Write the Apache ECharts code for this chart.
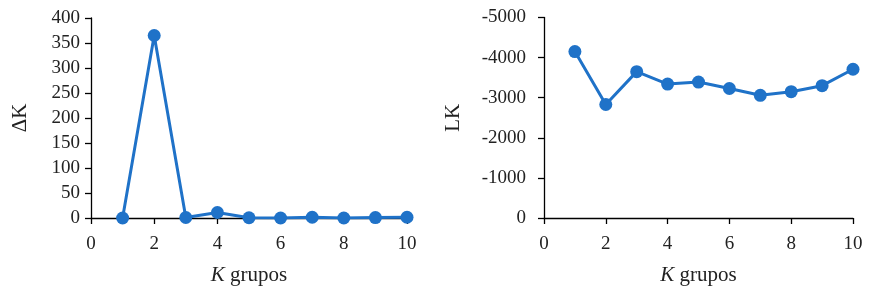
<!DOCTYPE html>
<html><head><meta charset="utf-8">
<script src="https://cdn.jsdelivr.net/npm/echarts@6/dist/echarts.min.js"></script>
<style>html,body{margin:0;padding:0;background:#fff}#c{width:883px;height:291px}</style>
</head><body><div id="c"></div>
<script>
const kValues = [1, 2, 3, 4, 5, 6, 7, 8, 9, 10];
const deltaK = [0, 365, 1, 11, 0.5, 0, 1.5, 0, 0.8, 1.5];
const lnK = [-4150, -2830, -3650, -3340, -3390, -3230, -3060, -3150, -3300, -3710];

const color = '#1f72c8';
const font = 'Liberation Serif';
const axisCommon = {
  axisLine: { show: true, lineStyle: { color: '#000', width: 1.3 } },
  axisTick: { show: true, length: 6, inside: false, lineStyle: { color: '#000', width: 1.3 } },
  splitLine: { show: false },
  axisLabel: { color: '#222', fontFamily: font, fontSize: 19, formatter: v => String(v) }
};
const xName = {
  name: '{i|K} grupos',
  nameLocation: 'middle',
  nameGap: 47,
  nameTextStyle: {
    color: '#222', fontFamily: font, fontSize: 21,
    rich: { i: { fontStyle: 'italic', fontFamily: font, fontSize: 21, color: '#222' } }
  }
};
const chart = echarts.init(document.getElementById('c'));
chart.setOption({
  animation: false,
  grid: [
    { left: 91, right: 476, top: 18, bottom: 71 },
    { left: 544, right: 30, top: 17.5, bottom: 67 }
  ],
  xAxis: [
    Object.assign({ type: 'value', gridIndex: 0, min: 0, max: 10, interval: 2 }, axisCommon,
      { axisLabel: Object.assign({}, axisCommon.axisLabel, { margin: 17 }) }, xName),
    Object.assign({ type: 'value', gridIndex: 1, min: 0, max: 10, interval: 2 }, axisCommon,
      { axisLabel: Object.assign({}, axisCommon.axisLabel, { margin: 17 }) }, xName)
  ],
  yAxis: [
    Object.assign({ type: 'value', gridIndex: 0, min: 0, max: 400, interval: 50 }, axisCommon, {
      axisLabel: Object.assign({}, axisCommon.axisLabel, { margin: 11 }),
      name: 'ΔK', nameLocation: 'middle', nameGap: 60,
      nameTextStyle: { color: '#222', fontFamily: font, fontSize: 21 }
    }),
    Object.assign({ type: 'value', gridIndex: 1, min: -5000, max: 0, interval: 1000, inverse: true }, axisCommon, {
      axisLabel: Object.assign({}, axisCommon.axisLabel, { margin: 18 }),
      name: 'LK', nameLocation: 'middle', nameGap: 80,
      nameTextStyle: { color: '#222', fontFamily: font, fontSize: 21 }
    })
  ],
  series: [
    { type: 'line', xAxisIndex: 0, yAxisIndex: 0, data: kValues.map((k, i) => [k, deltaK[i]]),
      symbol: 'circle', symbolSize: 13, lineStyle: { color, width: 3 }, itemStyle: { color } },
    { type: 'line', xAxisIndex: 1, yAxisIndex: 1, data: kValues.map((k, i) => [k, lnK[i]]),
      symbol: 'circle', symbolSize: 13, lineStyle: { color, width: 3 }, itemStyle: { color } }
  ]
});
</script></body></html>
